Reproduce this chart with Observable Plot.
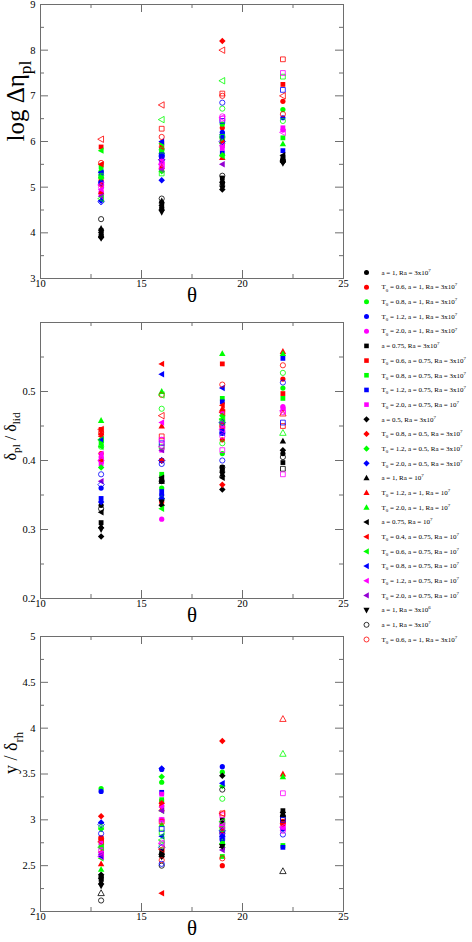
<!DOCTYPE html>
<html><head><meta charset="utf-8">
<script src="https://cdn.jsdelivr.net/npm/d3@7"></script>
<script src="https://cdn.jsdelivr.net/npm/@observablehq/plot@0.6"></script>
<style>
body{margin:0;background:#fff;}
#root{position:relative;width:472px;height:942px;overflow:hidden;background:#fff;}
#root svg{position:absolute;overflow:visible;}
</style></head><body><div id="root"></div>
<script>
// ---------- data ----------
const thetaValues = [13, 16, 19, 22];
const xMajorTicks = [10, 15, 20, 25];
const xMinorTicks = [12.5, 17.5, 22.5];

const etaTickLabels = [3, 4, 5, 6, 7, 8, 9];
const etaMinorTicks = [3.5, 4.5, 5.5, 6.5, 7.5, 8.5];
const deltaTickLabels = [0.2, 0.3, 0.4, 0.5];
const deltaMajorTicks = [0.2, 0.3, 0.4, 0.5, 0.6];
const deltaMinorTicks = [0.25, 0.35, 0.45, 0.55];
const ratioTickLabels = [2, 2.5, 3, 3.5, 4, 4.5, 5];
const ratioMinorTicks = [2.25, 2.75, 3.25, 3.75, 4.25, 4.75];

const legendLabels = [
  "a = 1, Ra = 3x10^{7}",
  "T_{0} = 0.6, a = 1, Ra = 3x10^{7}",
  "T_{0} = 0.8, a = 1, Ra = 3x10^{7}",
  "T_{0} = 1.2, a = 1, Ra = 3x10^{7}",
  "T_{0} = 2.0, a = 1, Ra = 3x10^{7}",
  "a = 0.75, Ra = 3x10^{7}",
  "T_{0} = 0.6, a = 0.75, Ra = 3x10^{7}",
  "T_{0} = 0.8, a = 0.75, Ra = 3x10^{7}",
  "T_{0} = 1.2, a = 0.75, Ra = 3x10^{7}",
  "T_{0} = 2.0, a = 0.75, Ra = 10^{7}",
  "a = 0.5, Ra = 3x10^{7}",
  "T_{0} = 0.8, a = 0.5, Ra = 3x10^{7}",
  "T_{0} = 1.2, a = 0.5, Ra = 3x10^{7}",
  "T_{0} = 2.0, a = 0.5, Ra = 3x10^{7}",
  "a = 1, Ra = 10^{7}",
  "T_{0} = 1.2, a = 1, Ra = 10^{7}",
  "T_{0} = 2.0, a = 1, Ra = 10^{7}",
  "a = 0.75, Ra = 10^{7}",
  "T_{0} = 0.4, a = 0.75, Ra = 10^{7}",
  "T_{0} = 0.6, a = 0.75, Ra = 10^{7}",
  "T_{0} = 0.8, a = 0.75, Ra = 10^{7}",
  "T_{0} = 1.2, a = 0.75, Ra = 10^{7}",
  "T_{0} = 2.0, a = 0.75, Ra = 10^{7}",
  "a = 1, Ra = 3x10^{6}",
  "a = 1, Ra = 3x10^{7}",
  "T_{0} = 0.6, a = 1, Ra = 3x10^{7}"
];

// log Δη_pl at θ = 13, 16, 19, 22 for each series
const etaValues = [
  [3.95,4.55,5.1,5.6],[5.15,5.85,6.3,6.88],[5.35,5.75,6.38,6.7],[5.1,5.7,6.2,6.52],[4.9,5.55,5.9,6.25],
  [4.05,4.65,5.2,5.65],[5.88,5.95,6.05,7.25],[5.45,5.8,5.95,6.08],[5.3,5.65,5.75,5.8],[4.85,5.4,5.85,6.3],
  [3.9,4.5,4.95,5.55],[5.05,5.6,8.2,null],[5.2,5.35,5.7,null],[4.7,5.15,6.1,null],
  [4.1,4.7,5.15,5.62],[4.9,5.45,5.65,null],[5.25,5.78,6.0,5.95],
  [4.0,4.6,5.05,5.7],[5.5,5.88,5.98,null],[5.8,5.95,5.68,null],[5.32,6.0,6.15,null],[4.95,5.6,5.92,null],[4.8,5.38,5.5,null],
  [3.88,4.45,4.98,5.52],[4.3,4.75,5.25,5.58],[5.53,6.1,7.0,6.6],
  [5.25,5.82,6.72,6.45],[5.1,5.68,6.85,null],[5.0,5.52,6.55,null],
  [null,null,null,null],[null,6.28,7.05,7.8],[null,5.3,6.1,7.42],[null,5.7,6.45,7.13],[null,5.45,6.5,7.5],
  [null,null,null,null],[null,null,null,null],[null,null,null,null],
  [4.68,5.6,6.0,null],[6.05,6.8,8.0,7.0],[4.75,6.48,7.33,null],[5.05,5.5,6.52,6.2]
];
// δ_pl / δ_lid
const deltaValues = [
  [0.335,0.37,0.385,0.41],[0.41,0.34,0.43,0.518],[0.43,0.36,0.41,0.505],[0.36,0.35,0.445,null],[0.405,0.315,0.45,0.478],
  [0.31,0.375,0.39,0.397],[0.445,0.4,0.54,0.497],[0.425,0.38,0.49,0.49],[0.345,0.355,0.485,0.548],[0.395,0.415,0.47,0.475],
  [0.29,0.335,0.358,0.415],[0.4,0.4,0.365,null],[0.39,0.345,0.465,null],[0.34,0.345,0.44,null],
  [0.305,0.37,0.38,0.428],[0.44,0.45,0.475,0.558],[0.458,0.5,0.555,0.555],
  [0.325,0.375,0.375,null],[0.435,0.54,0.48,null],[0.42,0.33,0.46,null],[0.43,0.525,0.505,null],[0.41,0.455,0.45,null],[0.37,0.415,0.455,null],
  [0.3,0.34,0.38,null],[0.33,0.37,0.39,0.405],[0.44,0.495,0.51,0.538],
  [0.42,0.475,0.425,0.527],[0.38,0.395,0.4,0.513],[0.4,0.43,0.435,0.47],
  [null,null,null,0.388],[null,0.435,0.45,0.45],[null,0.42,0.455,null],[null,0.425,0.44,0.455],[null,0.43,0.415,0.38],
  [null,null,null,null],[null,null,null,0.468],[null,null,null,0.44],
  [0.365,0.4,0.455,null],[0.445,0.465,0.47,null],[0.43,0.495,0.46,null],[0.4,0.42,0.445,0.472]
];
// y / δ_rh
const ratioValues = [
  [2.38,2.62,2.95,3.05],[2.78,3.15,2.5,2.98],[3.34,3.41,3.52,null],[3.31,3.55,3.58,2.9],[2.7,3.0,2.85,2.92],
  [2.35,2.66,3.0,3.1],[2.8,3.2,2.72,2.96],[2.72,3.22,2.6,2.72],[2.62,3.3,2.78,2.7],[2.75,3.28,2.9,null],
  [2.4,2.6,3.48,3.08],[3.04,3.18,3.86,null],[2.9,3.47,3.37,null],[2.97,3.56,2.82,null],
  [2.32,2.65,2.72,3.06],[2.52,3.12,2.88,3.5],[2.46,2.95,2.76,3.47],
  [2.36,2.62,2.7,null],[2.65,2.2,2.92,null],[2.58,3.1,2.74,null],[2.6,2.82,3.4,null],[2.64,3.14,2.94,null],[2.62,3.1,2.67,null],
  [2.28,2.6,2.71,null],[2.12,2.5,3.33,null],[2.8,2.56,2.58,2.96],
  [2.92,2.72,3.23,null],[2.85,2.52,2.85,2.84],[2.67,2.75,2.97,2.88],
  [null,null,null,3.02],[null,2.98,3.07,2.98],[null,2.86,2.9,null],[null,2.9,2.8,3.0],[null,3.0,3.05,3.29],
  [2.2,null,null,2.44],[null,null,null,4.1],[null,null,null,3.72],
  [2.95,2.7,2.88,null],[2.76,2.68,3.07,null],[2.7,2.78,2.98,null],[2.6,2.74,2.93,2.92]
];

// ---------- series styles ----------
const C = {k:"#000000", r:"#ff0000", g:"#00ff00", b:"#0000ff", m:"#ff00ff", v:"#9400d3"};
const seriesColor = ["k","r","g","b","m","k","r","g","b","m","k","r","g","b","k","r","g","k","r","g","b","m","v","k","k","r",
                     "g","b","m","k","r","g","b","m","k","r","g","b","r","g","m"];
const seriesShape = ["circle","circle","circle","circle","circle","square","square","square","square","square",
                     "diamond","diamond","diamond","diamond","triUp","triUp","triUp",
                     "triLeft","triLeft","triLeft","triLeft","triLeft","triLeft","triDown","circle","circle",
                     "circle","circle","circle","square","square","square","square","square","triUp","triUp","triUp",
                     "diamond","triLeft","triLeft","triLeft"];
const seriesOpen = i => i >= 24;

const rad = s => Math.sqrt(s / Math.PI);
const SHAPES = {
  circle: {draw(c, s){ const r = rad(s); c.moveTo(r,0); c.arc(0,0,r,0,2*Math.PI); c.closePath(); }},
  square: {draw(c, s){ const r = rad(s)*0.92; c.moveTo(-r,-r); c.lineTo(r,-r); c.lineTo(r,r); c.lineTo(-r,r); c.closePath(); }},
  diamond:{draw(c, s){ const r = rad(s)*1.25; c.moveTo(0,-r); c.lineTo(r,0); c.lineTo(0,r); c.lineTo(-r,0); c.closePath(); }},
  triUp:  {draw(c, s){ const r = rad(s)*1.3; c.moveTo(0,-r); c.lineTo(r*0.95,r*0.72); c.lineTo(-r*0.95,r*0.72); c.closePath(); }},
  triDown:{draw(c, s){ const r = rad(s)*1.3; c.moveTo(0,r); c.lineTo(r*0.95,-r*0.72); c.lineTo(-r*0.95,-r*0.72); c.closePath(); }},
  triLeft:{draw(c, s){ const r = rad(s)*1.3; c.moveTo(-r,0); c.lineTo(r*0.72,-r*0.95); c.lineTo(r*0.72,r*0.95); c.closePath(); }}
};
function dotStyle(i){
  const col = C[seriesColor[i]];
  return seriesOpen(i)
    ? {symbol: SHAPES[seriesShape[i]], fill: "none", stroke: col, strokeWidth: 0.8}
    : {symbol: SHAPES[seriesShape[i]], fill: col, stroke: "none"};
}

// ---------- rich text (sub/superscripts) ----------
const SVGNS = "http://www.w3.org/2000/svg";
function richText(el, str){
  el.textContent = "";
  let cur = 0;
  const add = (txt, kind) => {
    const ts = document.createElementNS(SVGNS, "tspan");
    ts.textContent = txt;
    if (kind === "n") {
      if (cur !== 0) ts.setAttribute("dy", (-cur) + "em");
      cur = 0;
    } else {
      const target = kind === "_" ? 0.3 : -0.42;
      ts.setAttribute("font-size", "70%");
      ts.setAttribute("dy", ((target - cur) / 0.7).toFixed(3) + "em");
      cur = target;
    }
    el.appendChild(ts);
  };
  const re = /([_^])\{([^}]*)\}/g;
  let last = 0, m;
  while ((m = re.exec(str))) {
    if (m.index > last) add(str.slice(last, m.index), "n");
    add(m[2], m[1]);
    last = re.lastIndex;
  }
  if (last < str.length) add(str.slice(last), "n");
}
function fixText(svg){
  d3.select(svg).selectAll("text").each(function(){
    const t = this.textContent;
    if (/[_^]\{/.test(t)) richText(this, t);
  });
}

// ---------- panels ----------
const FONT = "'Liberation Serif','Times New Roman',serif";
const TICK = "#6e6e6e";
const root = document.getElementById("root");
const W = 350, ML = 40, MR = 7;

function panel({top, height, mt, mb, domain, yLabels, yMajor, yMinor, values, title, titleSize, titleDx}){
  const FH = height - mt - mb, FW = W - ML - MR;
  const marks = [
    Plot.ruleX(xMajorTicks, {stroke: TICK, insetTop: FH - 8}),
    Plot.ruleX(xMajorTicks, {stroke: TICK, insetBottom: FH - 8}),
    Plot.ruleX(xMinorTicks, {stroke: TICK, insetTop: FH - 4}),
    Plot.ruleX(xMinorTicks, {stroke: TICK, insetBottom: FH - 4}),
    Plot.ruleY(yMajor, {stroke: TICK, insetRight: FW - 8}),
    Plot.ruleY(yMajor, {stroke: TICK, insetLeft: FW - 8}),
    Plot.ruleY(yMinor, {stroke: TICK, insetRight: FW - 4}),
    Plot.ruleY(yMinor, {stroke: TICK, insetLeft: FW - 4}),
    Plot.frame({stroke: TICK}),
    Plot.axisX({ticks: xMajorTicks, tickSize: 0, tickPadding: 1, fontSize: 10.5, label: null, tickFormat: d => String(d)}),
    Plot.axisY({ticks: yLabels, tickSize: 0, tickPadding: 5, fontSize: 10.5, label: null, tickFormat: d => String(d)})
  ];
  values.forEach((row, i) => {
    const pts = thetaValues.map((t, j) => ({theta: t, v: row[j]})).filter(d => d.v != null);
    if (pts.length) marks.push(Plot.dot(pts, {x: "theta", y: "v", r: 2.6, ...dotStyle(i)}));
  });
  marks.push(Plot.text([title], {text: d => d, frameAnchor: "left", rotate: -90, dx: titleDx, fontSize: titleSize}));
  marks.push(Plot.text(["θ"], {text: d => d, frameAnchor: "bottom", dy: 23, fontSize: 21}));
  const svg = Plot.plot({
    width: W, height, marginLeft: ML, marginRight: MR, marginTop: mt, marginBottom: mb,
    x: {domain: [10, 25]}, y: {domain},
    style: {fontFamily: FONT, background: "none", color: "#000", overflow: "visible"},
    marks
  });
  fixText(svg);
  svg.style.left = "0px";
  svg.style.top = top + "px";
  root.appendChild(svg);
}

panel({top: 0, height: 310, mt: 4, mb: 32, domain: [3, 9], yLabels: etaTickLabels, yMajor: etaTickLabels,
       yMinor: etaMinorTicks, values: etaValues, title: "log Δη_{pl}", titleSize: 25, titleDx: -25});
panel({top: 310, height: 315, mt: 12, mb: 27, domain: [0.2, 0.6], yLabels: deltaTickLabels, yMajor: deltaMajorTicks,
       yMinor: deltaMinorTicks, values: deltaValues, title: "δ_{pl} / δ_{lid}", titleSize: 16, titleDx: -30});
panel({top: 625, height: 317, mt: 11, mb: 31, domain: [2, 5], yLabels: ratioTickLabels, yMajor: ratioTickLabels,
       yMinor: ratioMinorTicks, values: ratioValues, title: "y / δ_{rh}", titleSize: 18, titleDx: -29});

// ---------- legend ----------
const legendMarks = legendLabels.map((l, i) => Plot.dot([i], {x: 0, y: d => d, r: 2.5, ...dotStyle(i)}));
legendMarks.push(Plot.text(legendLabels, {x: 1, y: (d, i) => i, text: d => d, textAnchor: "start", fontSize: 7}));
const legend = Plot.plot({
  width: 117, height: 400, margin: 0,
  x: {domain: [0, 1], range: [11, 26], axis: null},
  y: {domain: [0, 25], range: [10, 377], axis: null},
  style: {fontFamily: FONT, background: "none", color: "#000", overflow: "visible"},
  marks: legendMarks
});
fixText(legend);
legend.style.left = "355px";
legend.style.top = "262px";
root.appendChild(legend);
</script></body></html>
